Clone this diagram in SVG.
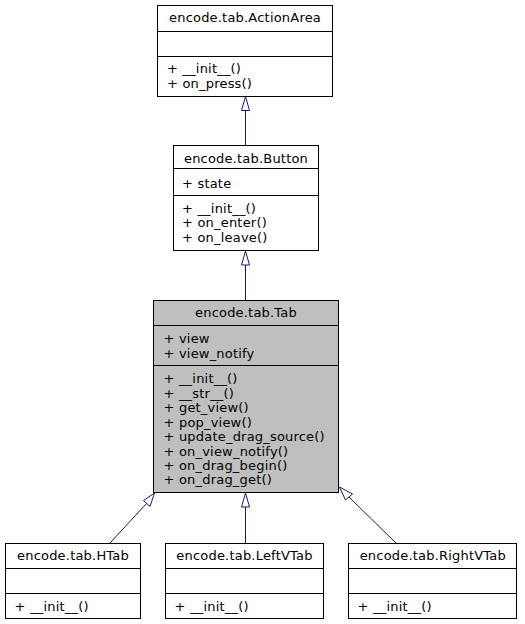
<svg xmlns="http://www.w3.org/2000/svg" width="525" height="624" viewBox="0 0 525 624">
<style>
.box{fill:#ffffff;stroke:#000000;stroke-width:1}
.tab{fill:#bfbfbf;stroke:#000000;stroke-width:1}
.sep{stroke:#000000;stroke-width:1;fill:none}
text{font-family:"DejaVu Sans","Noto Sans",sans-serif;font-size:13px;letter-spacing:0.2px;fill:#000000}
.t{text-anchor:middle}
.edge{stroke:#191970;stroke-width:1;fill:none}
.head{stroke:#191970;stroke-width:1;fill:#ffffff}
</style>
<rect width="525" height="624" fill="#ffffff"/>
<g id="connectors">
<line class="edge" x1="245.5" y1="145" x2="245.5" y2="110"/>
<polygon class="head" points="245.5,96.5 241.5,110.5 249.5,110.5"/>
<line class="edge" x1="245.5" y1="300" x2="245.5" y2="265"/>
<polygon class="head" points="245.5,251 241.5,265 249.5,265"/>
<line class="edge" x1="110" y1="543" x2="146.5" y2="503.5"/>
<polygon class="head" points="154.5,493 143.5,500.5 150,506.5"/>
<line class="edge" x1="245.5" y1="543" x2="245.5" y2="507"/>
<polygon class="head" points="245.5,493 241.5,507 249.5,507"/>
<line class="edge" x1="396" y1="543" x2="349" y2="497"/>
<polygon class="head" points="339.5,487 352.5,494 345.5,500"/>
</g>
<g id="ActionArea">
<rect class="box" x="157.5" y="5.5" width="175" height="91"/>
<line class="sep" x1="157.5" y1="31.5" x2="332.5" y2="31.5"/>
<line class="sep" x1="157.5" y1="56.5" x2="332.5" y2="56.5"/>
<text class="t" x="245" y="22">encode.tab.ActionArea</text>
<text x="167" y="73">+ __init__()</text>
<text x="167" y="87.5">+ on_press()</text>
</g>
<g id="Button">
<rect class="box" x="173.5" y="145.5" width="145" height="105"/>
<line class="sep" x1="173.5" y1="168.5" x2="318.5" y2="168.5"/>
<line class="sep" x1="173.5" y1="195.5" x2="318.5" y2="195.5"/>
<text class="t" x="246" y="163">encode.tab.Button</text>
<text x="182" y="187.5">+ state</text>
<text x="182" y="212.5">+ __init__()</text>
<text x="182" y="227">+ on_enter()</text>
<text x="182" y="241.5">+ on_leave()</text>
</g>
<g id="Tab">
<rect class="tab" x="153.5" y="300.5" width="185" height="192"/>
<line class="sep" x1="153.5" y1="325.5" x2="338.5" y2="325.5"/>
<line class="sep" x1="153.5" y1="365.5" x2="338.5" y2="365.5"/>
<text class="t" x="246" y="317">encode.tab.Tab</text>
<text x="163.5" y="343.3">+ view</text>
<text x="163.5" y="357.5">+ view_notify</text>
<text x="163.5" y="383.3">+ __init__()</text>
<text x="163.5" y="397.5">+ __str__()</text>
<text x="163.5" y="412">+ get_view()</text>
<text x="163.5" y="426.5">+ pop_view()</text>
<text x="163.5" y="441">+ update_drag_source()</text>
<text x="163.5" y="455.5">+ on_view_notify()</text>
<text x="163.5" y="470">+ on_drag_begin()</text>
<text x="163.5" y="484.3">+ on_drag_get()</text>
</g>
<g id="HTab">
<rect class="box" x="5.5" y="543.5" width="135" height="75"/>
<line class="sep" x1="5.5" y1="568.5" x2="140.5" y2="568.5"/>
<line class="sep" x1="5.5" y1="593.5" x2="140.5" y2="593.5"/>
<text class="t" x="73" y="560">encode.tab.HTab</text>
<text x="14.6" y="610.7">+ __init__()</text>
</g>
<g id="LeftVTab">
<rect class="box" x="165.5" y="543.5" width="158" height="75"/>
<line class="sep" x1="165.5" y1="568.5" x2="323.5" y2="568.5"/>
<line class="sep" x1="165.5" y1="593.5" x2="323.5" y2="593.5"/>
<text class="t" x="244.5" y="560">encode.tab.LeftVTab</text>
<text x="174.6" y="610.7">+ __init__()</text>
</g>
<g id="RightVTab">
<rect class="box" x="348.5" y="543.5" width="168" height="75"/>
<line class="sep" x1="348.5" y1="568.5" x2="516.5" y2="568.5"/>
<line class="sep" x1="348.5" y1="593.5" x2="516.5" y2="593.5"/>
<text class="t" x="432.8" y="560">encode.tab.RightVTab</text>
<text x="357.6" y="610.7">+ __init__()</text>
</g>
</svg>
